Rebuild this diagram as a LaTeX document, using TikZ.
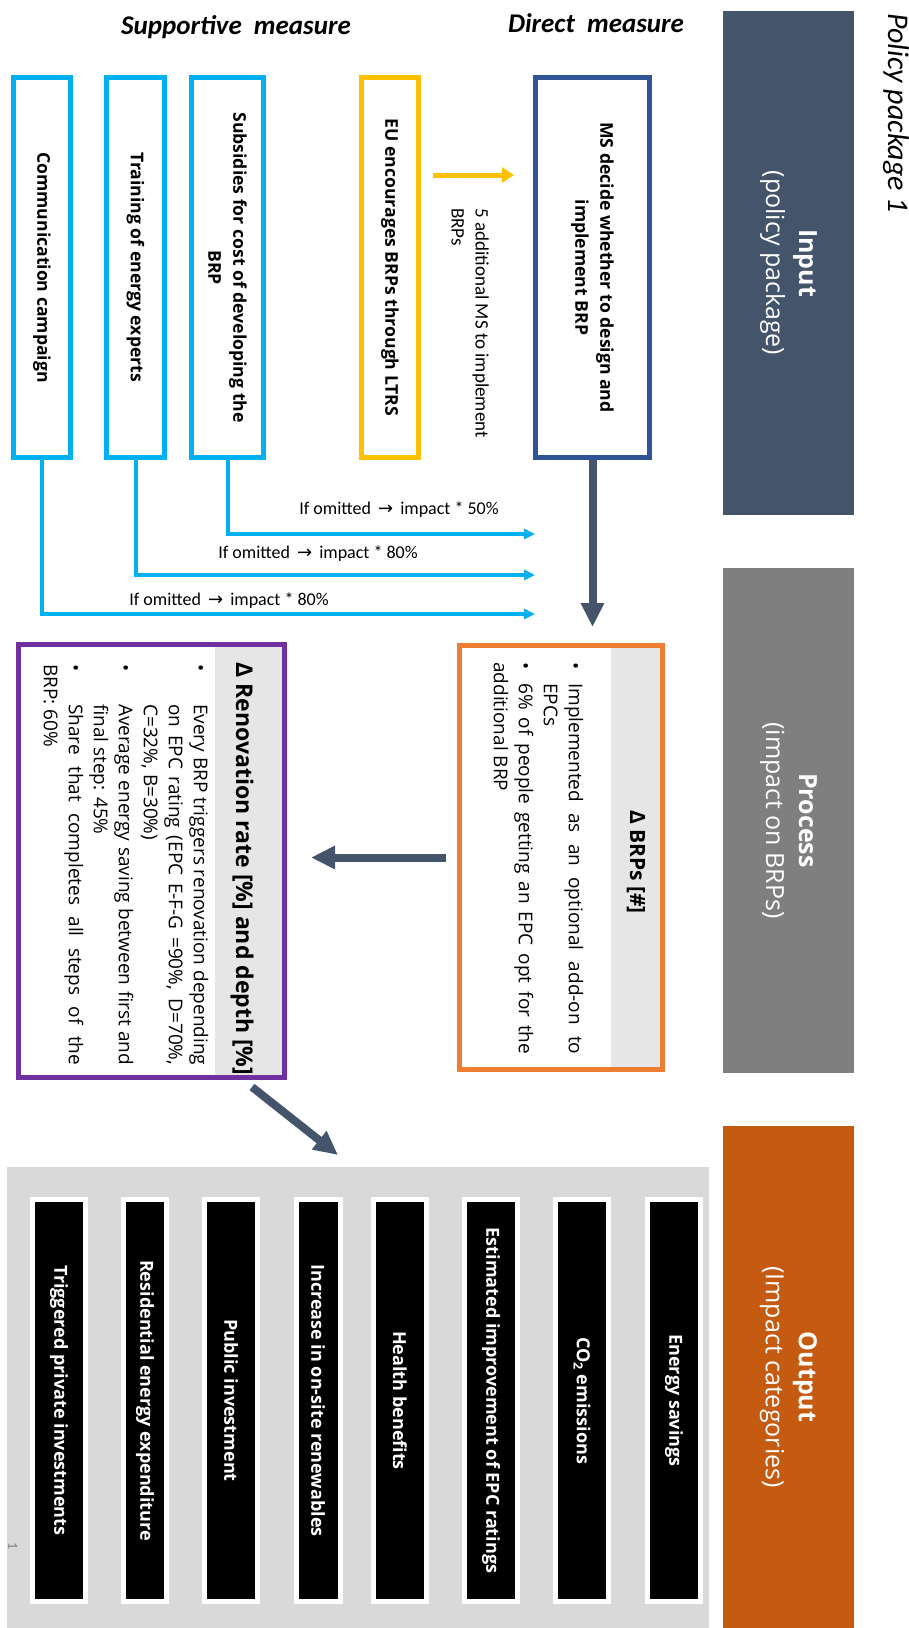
\documentclass[tikz,border=0pt]{standalone}
\usepackage{fontspec}
\setmainfont{Open Sans}
\newfontfamily\calibri{Carlito}
\newfontfamily\arrowfont{DejaVu Sans}
\usetikzlibrary{arrows.meta}

\definecolor{slate}{HTML}{44546A}
\definecolor{midgray}{HTML}{7F7F7F}
\definecolor{rust}{HTML}{C55A11}
\definecolor{skyblue}{HTML}{00B0F0}
\definecolor{amber}{HTML}{FFC000}
\definecolor{navy}{HTML}{2F5597}
\definecolor{tangerine}{HTML}{ED7D31}
\definecolor{violet}{HTML}{7030A0}
\definecolor{bandgray}{HTML}{E7E6E6}
\definecolor{panelgray}{HTML}{D9D9D9}

\newcommand\fsz[2]{\fontsize{#1}{#2}\selectfont}
% bullet with hanging indent
\newcommand\bpt[2]{\par\noindent\hangindent=#1\hangafter=1\makebox[#1][l]{\textbullet}#2}

\begin{document}
\begin{tikzpicture}[x=1pt, y=-1pt,
	header/.style={rotate=-90, fill=#1, text=white, align=center, minimum height=131pt, inner sep=0pt, font=\fsz{25}{33}},
	inbox/.style={rotate=-90, draw=#1, line width=5pt, minimum width=380pt, align=center, inner sep=0pt, font=\bfseries\fsz{17.6}{25}},
	infobox/.style={rotate=-90, draw=#1, line width=5pt, inner sep=0pt},
	bullets/.style={rotate=-90, anchor=north west, text width=#1, align=justify, inner sep=0pt, font=\fsz{19}{25}},
	outitem/.style={rotate=-90, fill=black, draw=white, line width=5pt, minimum width=402pt, text=white, inner sep=0pt, font=\bfseries\fsz{18}{22}},
	omitlabel/.style={inner sep=0pt, font=\calibri\fsz{18}{20}},
	skyarrow/.style={draw=skyblue, line width=4pt, -{Triangle[length=11pt,width=10pt]}},
	bigarrow/.style={draw=slate, line width=8pt, -{Triangle[length=24pt,width=22pt]}}]
	\useasboundingbox (0,0) rectangle (908,1628);

	% Column headers
	\node[header=slate, minimum width=504pt] (hin) at (788.5,263) {\textbf{Input}\\(policy package)};
	\node[header=midgray, minimum width=505pt] (hproc) at (788.5,820.5) {\textbf{Process}\\(impact on BRPs)};
	\node[header=rust, minimum width=502pt] (hout) at (788.5,1377) {\textbf{Output}\\(Impact categories)};
	\node[rotate=-90, anchor=west, inner sep=0pt, font=\calibri\itshape\fsz{30}{32}] (pp) at (896,13) {Policy package 1};

	% Measure titles
	\node[font=\calibri\bfseries\itshape\fsz{27}{30}] (sup) at (236,27) {Supportive\hspace{0.45em}measure};
	\node[font=\calibri\bfseries\itshape\fsz{27}{30}] (dir) at (596,23) {Direct\hspace{0.45em}measure};

	% Input boxes
	\node[inbox=skyblue, minimum height=57pt] (comm) at (42,267.5) {Communication campaign};
	\node[inbox=skyblue, minimum height=58pt] (train) at (135.5,267.5) {Training of energy experts};
	\node[inbox=skyblue, minimum height=72pt] (subs) at (227.5,267.5) {Subsidies for cost of developing the\\BRP};
	\node[inbox=amber, minimum height=57pt] (eu) at (390,267.5) {EU encourages BRPs through LTRS};
	\node[inbox=navy, minimum height=114pt] (ms) at (592.5,267.5) {MS decide whether to design and\\implement BRP};

	% EU -> MS
	\draw[amber, line width=5pt, -{Triangle[length=12pt,width=15pt]}, shorten <=12pt, shorten >=19pt] (eu.north |- 0,175) -- (ms.south |- 0,175);
	\node[rotate=-90, anchor=north west, align=left, inner sep=0pt, font=\calibri\fsz{19}{24}] (note) at (489,208) {5 additional MS to implement\\BRPs};

	% Supportive measures feed in
	\foreach \src/\yy/\lx/\ly/\pc in {subs/534/399/510/50, train/575/318/554/80, comm/614/229/601/80} {
		\coordinate (tip-\src) at (535,\yy);
		\draw[skyarrow] (\src.east) |- (tip-\src);
		\node[omitlabel] (lab-\src) at (\lx,\ly) {If omitted \,{\arrowfont →}\, impact * \pc\%};
	}

	% Process box
	\fill[bandgray] (611,645.5) rectangle (662.5,1069.5);
	\node[infobox=tangerine, minimum width=424pt, minimum height=203pt] (proc) at (561,857.5) {};
	\node[rotate=-90, font=\bfseries\fsz{21}{24}] (proct) at (636,862) {Δ BRPs [\#]};
	\node[bullets=392pt] (procb) at (594,662) {\bpt{21pt}{Implemented as an optional add-on to\linebreak EPCs}\bpt{21pt}{6\% of people getting an EPC opt for the\linebreak additional BRP}};

	% Renovation box
	\fill[bandgray] (215,644.5) rectangle (284.5,1077.5);
	\node[infobox=violet, minimum width=433pt, minimum height=266pt] (reno) at (151.5,861) {};
	\node[rotate=-90, font=\bfseries\fsz{23}{25}] (renot) at (242,869) {Δ Renovation rate [\%] and depth [\%]};
	\node[bullets=401pt] (renob) at (219,664) {\bpt{40pt}{Every BRP triggers renovation depending\linebreak on EPC rating (EPC E-F-G =90\%, D=70\%,\linebreak C=32\%, B=30\%)}\bpt{40pt}{Average energy saving between first and\linebreak final step: 45\%}\bpt{40pt}{Share that completes all steps of the\linebreak BRP: 60\%}};

	% Impact categories
	\fill[panelgray] (7,1167) rectangle (709,1628);
	\foreach \i/\x/\w/\t in {1/59/53pt/Triggered private investments, 2/145/43pt/Residential energy expenditure, 3/231/53pt/Public investment, 4/318/44pt/Increase in on-site renewables, 5/400/53pt/Health benefits, 6/491/53pt/Estimated improvement of EPC ratings, 7/582/53pt/CO\textsubscript{2} emissions, 8/674/53pt/Energy savings}
		\node[outitem, minimum height=\w] (out\i) at (\x,1400.5) {\t};
	\node[rotate=-90, text=gray, font=\calibri\fsz{14}{16}] (pgno) at (13,1546) {1};

	% Flow arrows
	\draw[bigarrow, shorten >=16pt] (ms.east) -- (ms.east |- proc.west);
	\draw[bigarrow, shorten <=11pt, shorten >=24pt] (proc.south) -- (proc.south -| reno.north);
	\coordinate (diagA) at (252,1087);
	\coordinate (diagB) at (338,1155);
	\draw[bigarrow] (diagA) -- (diagB);
\end{tikzpicture}
\end{document}
